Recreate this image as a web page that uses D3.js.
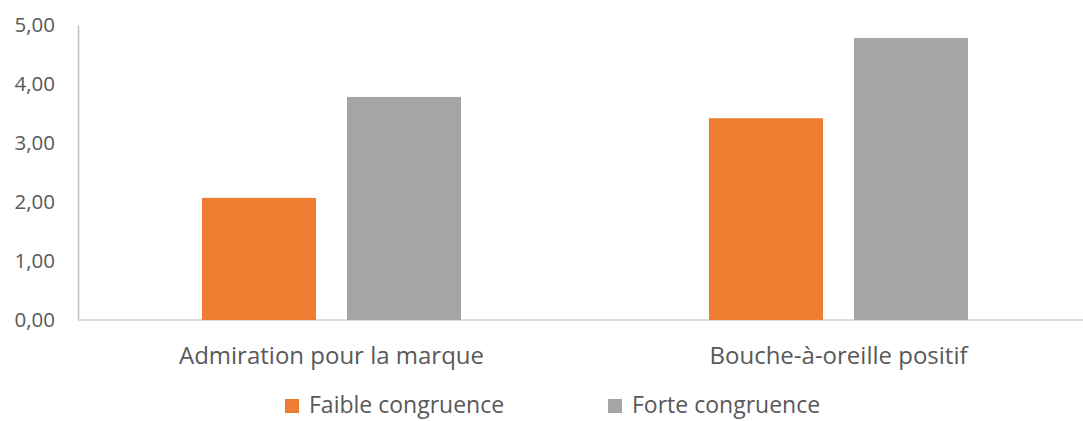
<!DOCTYPE html>
<html>
<head>
<meta charset="utf-8">
<script src="https://cdn.jsdelivr.net/npm/d3@7"></script>
<style>
  body { margin: 0; background: #fff; }
  text { font-family: "Open Sans", sans-serif; fill: #595959; }
</style>
</head>
<body>
<script>
var categories = ["Admiration pour la marque", "Bouche-à-oreille positif"];
var seriesNames = ["Faible congruence", "Forte congruence"];
var faible = [2.07, 3.42];
var forte = [3.78, 4.78];
var yTicks = [0, 1, 2, 3, 4, 5];

function init() {
    var w = 1083;
    var h = 421;
    var colors = ["#ed7d31", "#a5a5a5"];

    var svg = d3.select("body").append("svg").attr("width", w).attr("height", h);

    var x = d3.scaleBand().domain(categories).range([78, 1092]);
    var y = d3.scaleLinear().domain([0, 5]).range([320, 25]);
    var inner = d3.scaleBand().domain(seriesNames).range([0, 259]).paddingInner(31 / 145);

    var fmt = function (d) { return d3.format(".2f")(d).replace(".", ","); };

    // y axis labels + line
    var yAxis = d3.axisLeft(y).tickValues(yTicks).tickFormat(fmt).tickSize(0).tickPadding(23);
    var yg = svg.append("g").attr("transform", "translate(78,0)").call(yAxis);
    yg.select(".domain").attr("stroke", "#bfbfbf").attr("stroke-width", 1.5);
    yg.selectAll("text").style("font-size", "20.5px").style("fill", "#595959").style("font-family", "Open Sans");

    // x baseline
    svg.append("line")
        .attr("x1", 78).attr("x2", w)
        .attr("y1", y(0)).attr("y2", y(0))
        .attr("stroke", "#d0d0d0").attr("stroke-width", 1.5);

    var rows = categories.map(function (c, i) { return { cat: c, vals: [faible[i], forte[i]] }; });

    var groups = svg.selectAll("g.grp").data(rows).enter().append("g")
        .attr("class", "grp")
        .attr("transform", function (d) { return "translate(" + (x(d.cat) + (x.bandwidth() - 259) / 2) + ",0)"; });

    groups.selectAll("rect")
        .data(function (d) { return d.vals.map(function (v, j) { return { s: seriesNames[j], v: v, j: j }; }); })
        .enter().append("rect")
        .attr("x", function (d) { return inner(d.s); })
        .attr("width", inner.bandwidth())
        .attr("y", function (d) { return y(d.v); })
        .attr("height", function (d) { return y(0) - y(d.v); })
        .attr("fill", function (d) { return colors[d.j]; });

    // category labels
    var xAxis = d3.axisBottom(x).tickSize(0).tickPadding(27);
    var xg = svg.append("g").attr("transform", "translate(0," + y(0) + ")").call(xAxis);
    xg.select(".domain").remove();
    xg.selectAll("text").style("font-size", "24px").style("fill", "#595959").style("font-family", "Open Sans");

    // legend
    var legendX = [285, 608];
    var legend = svg.selectAll("g.leg").data(seriesNames).enter().append("g")
        .attr("class", "leg")
        .attr("transform", function (d, i) { return "translate(" + legendX[i] + ",399)"; });
    legend.append("rect").attr("width", 14).attr("height", 14)
        .attr("fill", function (d, i) { return colors[i]; });
    legend.append("text").attr("x", 24).attr("y", 14)
        .style("font-size", "23px")
        .text(function (d) { return d; });
}

window.onload = init;
</script>
</body>
</html>
